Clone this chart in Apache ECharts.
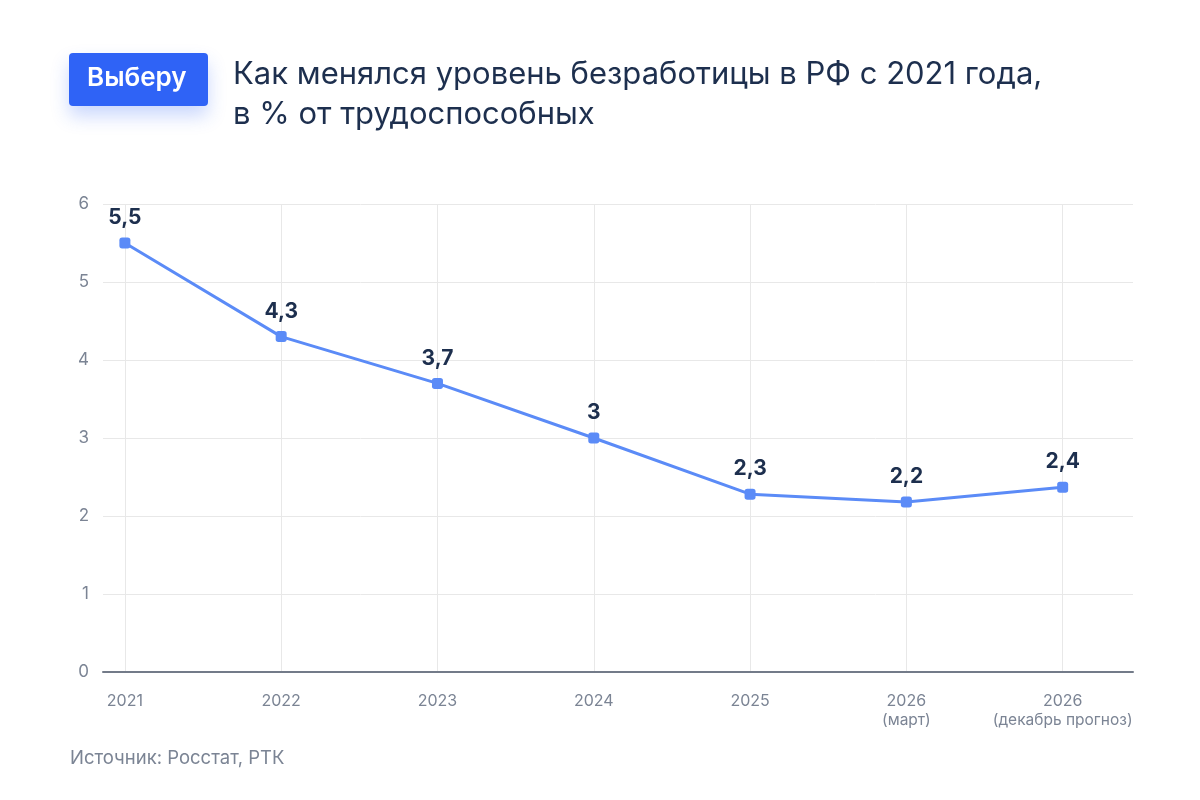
<!DOCTYPE html>
<html><head><meta charset="utf-8">
<script src="https://cdn.jsdelivr.net/npm/echarts@6/dist/echarts.min.js"></script>
<style>html,body{margin:0;padding:0;background:#fff}#c{width:1200px;height:800px}</style>
</head><body><div id="c"></div>
<script>
const categories = ['2021', '2022', '2023', '2024', '2025', '2026\n(март)', '2026\n(декабрь прогноз)'];
const values = [5.5, 4.3, 3.7, 3.0, 2.28, 2.18, 2.37];
const valueLabels = ['5,5', '4,3', '3,7', '3', '2,3', '2,2', '2,4'];
const yTicks = [0, 1, 2, 3, 4, 5, 6];

const chart = echarts.init(document.getElementById('c'));
const F = 'Inter, "Noto Sans", sans-serif';
chart.setOption({
  animation: false,
  textStyle: { fontFamily: F },
  title: {
    text: 'Как менялся уровень безработицы в РФ с 2021 года,\nв % от трудоспособных',
    left: 233, top: 55, padding: 0,
    textStyle: { fontFamily: F, fontSize: 31, fontWeight: 'normal', color: '#1d2f4e', lineHeight: 40 }
  },
  graphic: [
    { type: 'rect', left: 69, top: 53, shape: { width: 139, height: 53, r: 4 },
      style: { fill: '#2f63f6', shadowBlur: 18, shadowOffsetY: 10, shadowColor: 'rgba(47,99,246,0.25)' } },
    { type: 'text', left: 87, top: 65, style: { text: 'Выберу', fill: '#fff', font: '600 26px ' + F } },
    { type: 'text', left: 70, top: 749, style: { text: 'Источник: Росстат, РТК', fill: '#7b8494', font: '18.5px ' + F } }
  ],
  grid: { left: 103, right: 67, top: 204, bottom: 128 },
  xAxis: {
    type: 'value', min: -0.14, max: 6.45,
    axisLine: { show: true, onZero: false, lineStyle: { color: '#737b89', width: 2 } },
    axisTick: { show: false, customValues: [0, 1, 2, 3, 4, 5, 6] },
    splitLine: { show: true, lineStyle: { color: '#e8e8e8', width: 1 } },
    axisLabel: {
      customValues: [0, 1, 2, 3, 4, 5, 6],
      margin: 20, color: '#7b8494', fontSize: 16, lineHeight: 18,
      formatter: v => {
        const c = categories[Math.round(v)] || '';
        const p = c.split('\n');
        return p.length > 1 ? '{a|' + p[0] + '}\n{s|' + p[1] + '}' : '{a|' + p[0] + '}';
      },
      rich: {
        a: { fontSize: 16, color: '#7b8494', lineHeight: 19, fontFamily: F },
        s: { fontSize: 15.5, color: '#7b8494', lineHeight: 19, fontFamily: F }
      }
    }
  },
  yAxis: {
    type: 'value', min: 0, max: 6, interval: 1,
    axisLine: { show: false }, axisTick: { show: false },
    splitLine: { lineStyle: { color: '#e8e8e8', width: 1 } },
    axisLabel: { margin: 14, color: '#7b8494', fontSize: 17, formatter: v => yTicks.includes(v) ? String(v) : '' }
  },
  series: [{
    type: 'line',
    data: values.map((v, i) => [i, v]),
    symbol: 'roundRect', symbolSize: 11,
    lineStyle: { color: '#5b8bf7', width: 3 },
    itemStyle: { color: '#5b8bf7' },
    label: {
      show: true, position: 'top', distance: 9,
      color: '#1d2f4e', fontSize: 21, fontWeight: 'bold', fontFamily: F,
      formatter: p => valueLabels[p.dataIndex]
    }
  }]
});
</script></body></html>
